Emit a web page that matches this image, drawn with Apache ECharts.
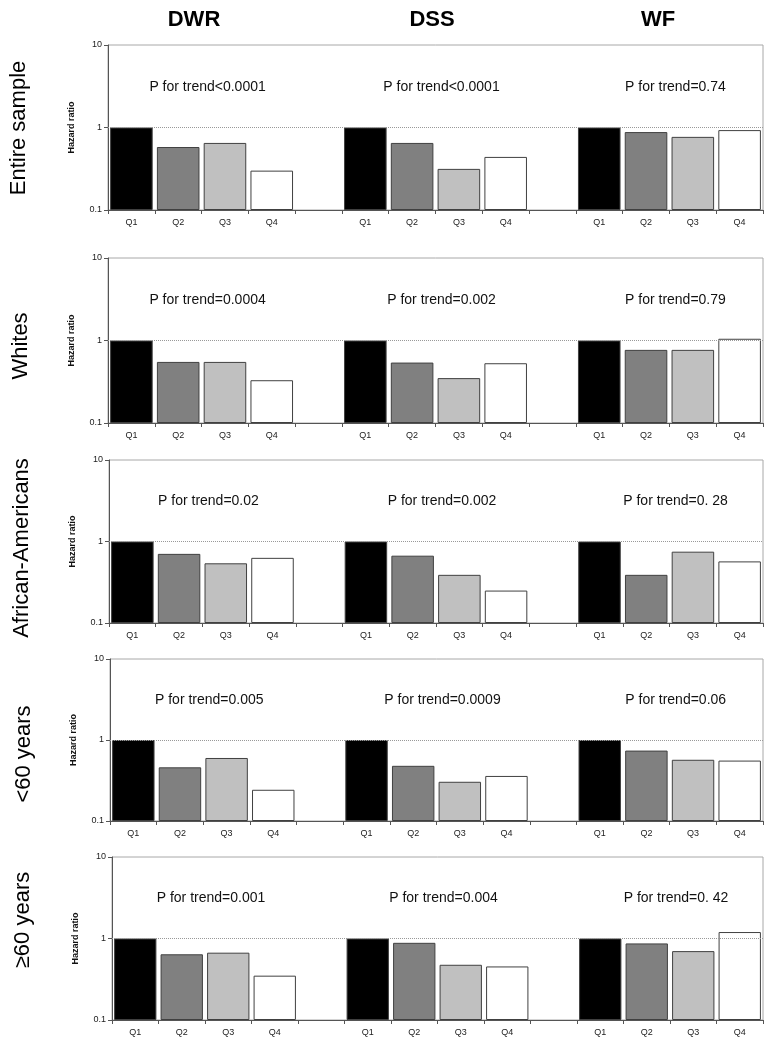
<!DOCTYPE html>
<html><head><meta charset="utf-8">
<script src="https://cdn.jsdelivr.net/npm/echarts@6/dist/echarts.min.js"></script>
<style>html,body{margin:0;padding:0;background:#fff}#c{width:775px;height:1050px}</style>
</head><body><div id="c"></div>
<script>
// ---------- data ----------
const categories = ['Q1','Q2','Q3','Q4','','Q1','Q2','Q3','Q4','','Q1','Q2','Q3','Q4'];
const outcomes = ['DWR','DSS','WF'];
const groups = ['Entire sample','Whites','African-Americans','<60 years','\u226560 years'];
const yTicks = [0.1, 1, 10];
// hazard ratios Q1..Q4 for DWR, DSS, WF
const entireSample     = [[1, 0.58, 0.65, 0.30], [1, 0.65, 0.315, 0.44], [1, 0.88, 0.77, 0.93]];
const whites           = [[1, 0.55, 0.55, 0.33], [1, 0.54, 0.35, 0.53], [1, 0.77, 0.77, 1.05]];
const africanAmericans = [[1, 0.705, 0.54, 0.63], [1, 0.67, 0.39, 0.25], [1, 0.39, 0.75, 0.57]];
const under60          = [[1, 0.46, 0.60, 0.243], [1, 0.48, 0.305, 0.36], [1, 0.74, 0.57, 0.557]];
const over60           = [[1, 0.64, 0.67, 0.35], [1, 0.885, 0.476, 0.454], [1, 0.87, 0.70, 1.2]];
const pEntire  = ['P for trend<0.0001', 'P for trend<0.0001', 'P for trend=0.74'];
const pWhites  = ['P for trend=0.0004', 'P for trend=0.002', 'P for trend=0.79'];
const pAfrican = ['P for trend=0.02', 'P for trend=0.002', 'P for trend=0. 28'];
const pUnder60 = ['P for trend=0.005', 'P for trend=0.0009', 'P for trend=0.06'];
const pOver60  = ['P for trend=0.001', 'P for trend=0.004', 'P for trend=0. 42'];
const referenceLine = 1;
const pTextLevel = 3.1;

const rowsData = [entireSample, whites, africanAmericans, under60, over60];
const rowsP = [pEntire, pWhites, pAfrican, pUnder60, pOver60];

// ---------- layout & style ----------
const FONT = "'Liberation Sans', Arial, sans-serif";
const gridTops = [45, 258, 460, 659, 857];
const gridHeights = [165, 165, 163, 162, 163];
const gridLefts = [108, 108, 109, 110, 112];
const gridRight = 12;
const labelCenters = [[19, 128], [21, 346], [22, 548], [24, 754], [23, 920]];
const headerCenters = [194, 432, 658];
const barColors = ['#000000', '#808080', '#c0c0c0', '#ffffff'];

const chart = echarts.init(document.getElementById('c'), null, {renderer: 'canvas'});

const grids = [], xAxes = [], yAxes = [], series = [];
rowsData.forEach((rowData, r) => {
  grids.push({left: gridLefts[r], right: gridRight, top: gridTops[r], height: gridHeights[r],
    show: true, borderColor: '#a8a8a8', borderWidth: 1, backgroundColor: 'transparent'});
  xAxes.push({type: 'category', gridIndex: r, data: categories,
    axisLine: {lineStyle: {color: '#555', width: 1}},
    axisTick: {show: true, interval: 0, length: 4, lineStyle: {color: '#555'}},
    axisLabel: {interval: 0, fontSize: 9, color: '#222', margin: 8, fontFamily: FONT},
    splitLine: {show: false}});
  yAxes.push({type: 'log', logBase: 10, gridIndex: r, min: yTicks[0], max: yTicks[yTicks.length - 1],
    startValue: yTicks[0],
    axisLine: {show: true, lineStyle: {color: '#555', width: 1}},
    axisTick: {show: true, length: 4, lineStyle: {color: '#555'}},
    axisLabel: {fontSize: 9, color: '#222', margin: 6, fontFamily: FONT,
      formatter: v => (v < 1 ? (+v).toFixed(1) : String(Math.round(v)))},
    splitLine: {show: false},
    name: 'Hazard ratio', nameLocation: 'middle', nameGap: 32,
    nameTextStyle: {fontSize: 9, fontWeight: 'bold', color: '#111', fontFamily: FONT}});
  const data = [];
  rowData.forEach((vals, k) => {
    vals.forEach((v, q) => data.push({value: v, itemStyle: {color: barColors[q]}}));
    if (k < rowData.length - 1) data.push('-');
  });
  series.push({type: 'bar', xAxisIndex: r, yAxisIndex: r, data: data,
    barCategoryGap: '9%', animation: false,
    itemStyle: {borderColor: '#404040', borderWidth: 1},
    markLine: {silent: true, symbol: 'none', animation: false,
      label: {show: false},
      lineStyle: {type: 'dotted', color: '#999', width: 1},
      data: [{yAxis: referenceLine}]}});
});

chart.setOption({backgroundColor: '#fff', animation: false,
  grid: grids, xAxis: xAxes, yAxis: yAxes, series: series});

// text annotations positioned through the chart's scales
const graphics = [];
outcomes.forEach((o, k) => {
  graphics.push({type: 'text', x: headerCenters[k], y: 20,
    style: {text: o, font: 'bold 22px ' + FONT, fill: '#000', textAlign: 'center', textVerticalAlign: 'middle'}});
});
groups.forEach((g, r) => {
  graphics.push({type: 'text', x: labelCenters[r][0], y: labelCenters[r][1], rotation: Math.PI / 2,
    style: {text: g, font: '22px ' + FONT, fill: '#000', textAlign: 'center', textVerticalAlign: 'middle'}});
  rowsP[r].forEach((t, k) => {
    const a = chart.convertToPixel({gridIndex: r}, [k * 5 + 1, pTextLevel]);
    const b = chart.convertToPixel({gridIndex: r}, [k * 5 + 2, pTextLevel]);
    graphics.push({type: 'text', x: (a[0] + b[0]) / 2 + 6, y: a[1],
      style: {text: t, font: '14px ' + FONT, fill: '#111', textAlign: 'center', textVerticalAlign: 'middle'}});
  });
});
chart.setOption({graphic: graphics});
</script>
</body></html>
